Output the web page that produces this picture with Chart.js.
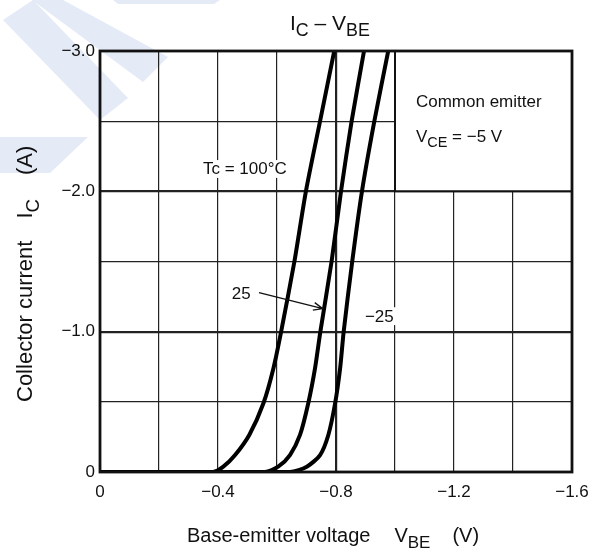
<!DOCTYPE html>
<html>
<head>
<meta charset="utf-8">
<script src="https://cdn.jsdelivr.net/npm/chart.js@4.4.1/dist/chart.umd.min.js"></script>
<style>
  html, body { margin: 0; padding: 0; background: #fff; }
</style>
</head>
<body>
<canvas id="icVbe" width="595" height="552"></canvas>
<script>
// data (V_BE in V, I_C in A)
const temps = ['100', '25', '-25'];
const icLevels = [0, 0, -0.038, -0.121, -0.264, -0.49, -0.74, -1.0, -1.5, -2.0, -2.5, -3.0];
const vbe100 = [0, -0.383, -0.418, -0.458, -0.506, -0.554, -0.588, -0.614, -0.659, -0.698, -0.746, -0.794];
const vbe25  = [0, -0.559, -0.604, -0.644, -0.678, -0.706, -0.729, -0.747, -0.785, -0.817, -0.853, -0.895];
const vbeM25 = [0, -0.644, -0.701, -0.746, -0.774, -0.797, -0.814, -0.826, -0.855, -0.888, -0.930, -0.977];
const xTicks = [0, -0.4, -0.8, -1.2, -1.6];
const yTicks = [0, -1.0, -2.0, -3.0];

const FONT = '"Liberation Sans", Arial, sans-serif';
const minus = v => (v === 0 ? '0' : '\u2212' + Math.abs(v).toFixed(1));
const pts = (xs, ys) => xs.map((x, i) => ({ x: x, y: ys[i] }));
const near = (v, list) => list.some(t => Math.abs(v - t) < 1e-6);

// text with subscripts: parts = [[text, isSub], ...] or a number for a gap in px
function richText(ctx, parts, x, y, size, align) {
  const widthOf = p => {
    if (typeof p === 'number') return p;
    ctx.font = (p[1] ? size * 0.85 : size) + 'px ' + FONT;
    return ctx.measureText(p[0]).width;
  };
  let w = 0;
  parts.forEach(p => { w += widthOf(p); });
  let cx = align === 'center' ? x - w / 2 : x;
  ctx.textAlign = 'left';
  ctx.textBaseline = 'alphabetic';
  parts.forEach(p => {
    const pw = widthOf(p);
    if (typeof p !== 'number') ctx.fillText(p[0], cx, p[1] ? y + size * 0.3 : y);
    cx += pw;
  });
}

function labelBox(ctx, text, left, base, size) {
  ctx.font = size + 'px ' + FONT;
  const w = ctx.measureText(text).width;
  ctx.fillStyle = '#fff';
  ctx.fillRect(left - 3, base - size * 0.85, w + 6, size * 1.05);
  ctx.fillStyle = '#111';
  ctx.textAlign = 'left';
  ctx.textBaseline = 'alphabetic';
  ctx.fillText(text, left, base);
}

const watermark = {
  id: 'watermark',
  beforeDraw(chart) {
    const ctx = chart.ctx;
    ctx.save();
    ctx.fillStyle = '#e4eaf6';
    const shapes = [
      [[3, 20], [33, 0], [128, 98], [100, 120]],
      [[32, 0], [63, 0], [168, 57], [143, 82]],
      [[113, 0], [220, 0], [214, 4], [118, 4]],
      [[0, 137], [88, 137], [50, 173], [0, 173]]
    ];
    shapes.forEach(s => {
      ctx.beginPath();
      s.forEach((p, i) => (i ? ctx.lineTo(p[0], p[1]) : ctx.moveTo(p[0], p[1])));
      ctx.closePath();
      ctx.fill();
    });
    ctx.restore();
  }
};

const overlay = {
  id: 'overlay',
  beforeDatasetsDraw(chart) {
    const { ctx, scales: { x, y }, chartArea: a } = chart;
    ctx.save();
    // condition box in upper right corner
    const bx = x.getPixelForValue(-1.0), by = y.getPixelForValue(-2.0);
    ctx.fillStyle = '#fff';
    ctx.fillRect(bx, a.top, a.right - bx, by - a.top);
    ctx.strokeStyle = '#111';
    ctx.lineWidth = 2;
    ctx.beginPath();
    ctx.moveTo(bx, a.top);
    ctx.lineTo(bx, by);
    ctx.lineTo(a.right, by);
    ctx.stroke();
    ctx.fillStyle = '#111';
    ctx.font = '17px ' + FONT;
    ctx.textAlign = 'left';
    ctx.textBaseline = 'alphabetic';
    ctx.fillText('Common emitter', x.getPixelForValue(-1.071), y.getPixelForValue(-2.6));
    richText(ctx, [['V', false], ['CE', true], [' = \u22125 V', false]],
      x.getPixelForValue(-1.071), y.getPixelForValue(-2.35), 17, 'left');

    labelBox(ctx, 'Tc = 100\u00b0C', x.getPixelForValue(-0.349), y.getPixelForValue(-2.12), 17);
    labelBox(ctx, '\u221225', x.getPixelForValue(-0.898), y.getPixelForValue(-1.071), 17);
    ctx.restore();
  },
  afterDatasetsDraw(chart) {
    const { ctx, scales: { x, y }, chartArea: a } = chart;
    ctx.save();
    ctx.fillStyle = '#111';
    ctx.font = '17px ' + FONT;
    ctx.textAlign = 'left';
    ctx.textBaseline = 'alphabetic';
    ctx.fillText('25', x.getPixelForValue(-0.447), y.getPixelForValue(-1.236));
    // arrow to the 25 curve
    const x1 = x.getPixelForValue(-0.539), y1 = y.getPixelForValue(-1.279);
    const x2 = x.getPixelForValue(-0.755), y2 = y.getPixelForValue(-1.164);
    const ang = Math.atan2(y2 - y1, x2 - x1);
    ctx.strokeStyle = '#111';
    ctx.lineWidth = 1.3;
    ctx.beginPath();
    ctx.moveTo(x1, y1);
    ctx.lineTo(x2, y2);
    ctx.moveTo(x2 - 10 * Math.cos(ang - 0.4), y2 - 10 * Math.sin(ang - 0.4));
    ctx.lineTo(x2, y2);
    ctx.lineTo(x2 - 10 * Math.cos(ang + 0.4), y2 - 10 * Math.sin(ang + 0.4));
    ctx.stroke();
    // frame
    ctx.lineWidth = 2.8;
    ctx.strokeRect(a.left, a.top, a.right - a.left, a.bottom - a.top);
    // titles
    ctx.fillStyle = '#111';
    richText(ctx, [['I', false], ['C', true], [' \u2013 V', false], ['BE', true]], 290, 30, 21, 'left');
    richText(ctx, [['Base-emitter voltage', false], 24, ['V', false], ['BE', true], 22, ['(V)', false]], 187, 542, 20, 'left');
    ctx.translate(32, 402);
    ctx.rotate(-Math.PI / 2);
    richText(ctx, [['Collector current', false], 22, ['I', false], ['C', true], 24, ['(A)', false]], 0, 0, 22, 'left');
    ctx.restore();
  }
};

const lineStyle = {
  borderColor: '#000',
  borderWidth: 4,
  pointRadius: 0,
  fill: false,
  tension: 0.25,
  showLine: true
};

new Chart(document.getElementById('icVbe'), {
  type: 'scatter',
  data: {
    datasets: [
      Object.assign({ label: temps[0], data: pts(vbe100, icLevels) }, lineStyle),
      Object.assign({ label: temps[1], data: pts(vbe25, icLevels) }, lineStyle),
      Object.assign({ label: temps[2], data: pts(vbeM25, icLevels) }, lineStyle)
    ]
  },
  options: {
    responsive: false,
    animation: false,
    devicePixelRatio: 1,
    layout: { padding: { left: 0, top: 51, right: 23, bottom: 0 } },
    plugins: { legend: { display: false }, tooltip: { enabled: false } },
    scales: {
      x: {
        type: 'linear',
        min: -1.6, max: 0, reverse: true,
        afterFit: s => { s.height = 80; s.paddingLeft = 0; s.paddingRight = 0; },
        afterBuildTicks: s => { s.ticks = []; for (let i = 0; i <= 8; i++) s.ticks.push({ value: -i * 0.2 }); },
        ticks: {
          autoSkip: false, maxRotation: 0, padding: 10,
          color: '#111', font: { family: FONT, size: 17 },
          callback: v => (near(v, xTicks) ? minus(v) : '')
        },
        grid: {
          drawTicks: false, color: '#222',
          lineWidth: c => (c.tick && near(c.tick.value, [-0.8]) ? 2.2 : 1.2)
        },
        border: { display: false }
      },
      y: {
        type: 'linear',
        min: -3, max: 0, reverse: true,
        afterFit: s => { s.width = 100; s.paddingTop = 0; s.paddingBottom = 0; },
        afterBuildTicks: s => { s.ticks = []; for (let i = 0; i <= 6; i++) s.ticks.push({ value: -i * 0.5 }); },
        ticks: {
          autoSkip: false, padding: 5,
          color: '#111', font: { family: FONT, size: 17 },
          callback: v => (near(v, yTicks) ? minus(v) : '')
        },
        grid: {
          drawTicks: false, color: '#222',
          lineWidth: c => (c.tick && near(c.tick.value, [-1, -2]) ? 2.2 : 1.2)
        },
        border: { display: false }
      }
    }
  },
  plugins: [watermark, overlay]
});
</script>
</body>
</html>
